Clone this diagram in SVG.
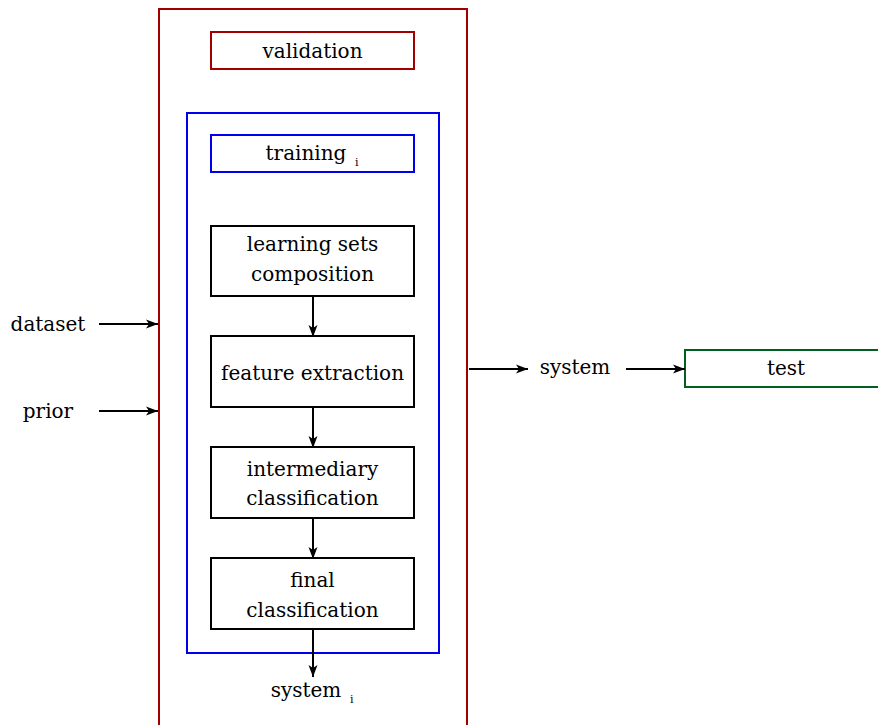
<svg xmlns="http://www.w3.org/2000/svg" width="878" height="725" viewBox="0 0 878 725">
<defs>
<marker id="ah" markerWidth="13" markerHeight="10" refX="12" refY="5" orient="auto" markerUnits="userSpaceOnUse">
<path d="M0,0.5 L12,5 L0,9.5 L3,5 Z" fill="#000"/>
</marker>
</defs>
<style>
text{font-family:"DejaVu Serif","Liberation Serif",serif;font-size:20px;fill:#000;text-anchor:middle}
.sub{font-size:11px;text-anchor:start}
.box{fill:#fff;stroke:#000;stroke-width:2}
.c{stroke:#000;stroke-width:2;fill:none;marker-end:url(#ah)}
</style>
<rect width="878" height="725" fill="#fff"/>
<g id="validation-frame"><rect x="159" y="9" width="308" height="730" fill="none" stroke="#a00000" stroke-width="2"/></g>
<g id="validation"><rect x="211" y="32" width="203" height="37" fill="#fff" stroke="#a00000" stroke-width="2"/><text x="312.5" y="58">validation</text></g>
<g id="training-frame"><rect x="187" y="113" width="252" height="540" fill="none" stroke="#0000ee" stroke-width="2"/></g>
<g id="training"><rect x="211" y="135" width="203" height="37" fill="#fff" stroke="#0000ee" stroke-width="2"/><text x="306" y="160">training</text><text class="sub" x="355" y="166">i</text></g>
<g id="learning"><rect class="box" x="211" y="226" width="203" height="70"/><text x="312.5" y="251">learning sets</text><text x="312.5" y="281">composition</text></g>
<g id="feature"><rect class="box" x="211" y="336" width="203" height="71"/><text x="312.5" y="380">feature extraction</text></g>
<g id="intermediary"><rect class="box" x="211" y="447" width="203" height="71"/><text x="312.5" y="476">intermediary</text><text x="312.5" y="505">classification</text></g>
<g id="final"><rect class="box" x="211" y="558" width="203" height="71"/><text x="312.5" y="587">final</text><text x="312.5" y="617">classification</text></g>
<g id="system-i"><text x="306" y="697">system</text><text class="sub" x="350" y="703">i</text></g>
<g id="dataset"><text x="48" y="331">dataset</text></g>
<g id="prior"><text x="48" y="418">prior</text></g>
<g id="system"><text x="575" y="374">system</text></g>
<g id="test"><rect x="685" y="350" width="200" height="37" fill="#fff" stroke="#006020" stroke-width="2"/><text x="786" y="375">test</text></g>
<g id="connectors">
<line class="c" x1="313" y1="296" x2="313" y2="337"/>
<line class="c" x1="313" y1="407" x2="313" y2="448"/>
<line class="c" x1="313" y1="518" x2="313" y2="559"/>
<line class="c" x1="313" y1="629" x2="313" y2="677"/>
<line class="c" x1="99" y1="324" x2="158" y2="324"/>
<line class="c" x1="99" y1="411" x2="158" y2="411"/>
<line class="c" x1="469" y1="369" x2="528" y2="369"/>
<line class="c" x1="626" y1="369" x2="685" y2="369"/>
</g>
</svg>
